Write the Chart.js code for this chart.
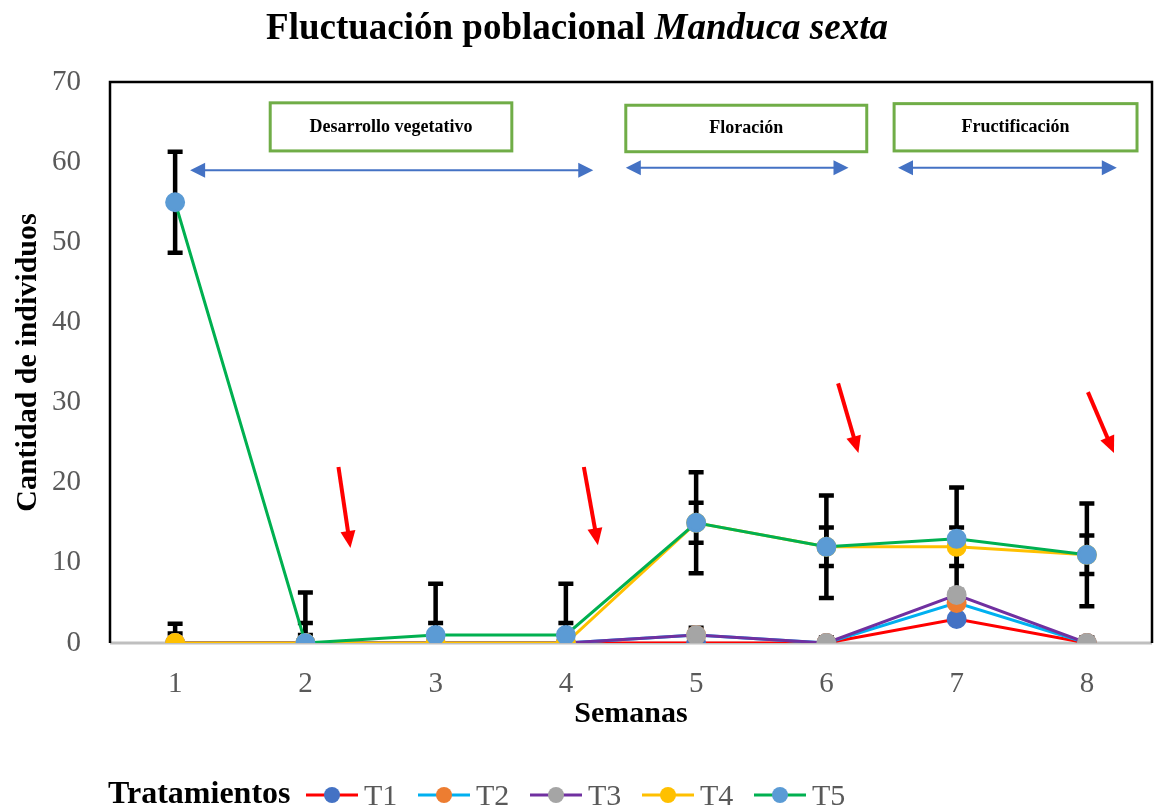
<!DOCTYPE html>
<html>
<head>
<meta charset="utf-8">
<script src="https://cdn.jsdelivr.net/npm/chart.js@4"></script>
<style>
  html, body { margin: 0; padding: 0; background: #fff; overflow: hidden; }
  #wrap { width: 1155px; height: 809px; }
</style>
</head>
<body>
<div id="wrap"><canvas id="grafico"></canvas></div>
<script>
// datos
const semanas = ['1', '2', '3', '4', '5', '6', '7', '8'];
const t1 = [0, 0, 0, 0, 0, 0, 3, 0];
const t2 = [0, 0, 0, 0, 1, 0, 5, 0];
const t3 = [0, 0, 0, 0, 1, 0, 6, 0];
const t4 = [0, 0, 0, 0, 15, 12, 12, 11];
const t5 = [55, 0, 1, 1, 15, 12, 13, 11];

// barras de error (+/-)
const errT3 = [1.2, 1.0, 0, 0, 0.9, 0.7, 0, 0.7];
const errT4 = [2.4, 2.5, 2.5, 2.5, 2.5, 2.4, 2.4, 2.4];
const errT5 = [6.3, 6.3, 6.4, 6.4, 6.3, 6.4, 6.4, 6.4];

const nombres = ['T1', 'T2', 'T3', 'T4', 'T5'];
const fases = ['Desarrollo vegetativo', 'Floración', 'Fructificación'];

const FONT = '"Liberation Serif", "Times New Roman", serif';
const colLinea = ['#FF0000', '#00B0F0', '#7030A0', '#FFC000', '#00B050'];
const colPunto = ['#4472C4', '#ED7D31', '#A5A5A5', '#FFC000', '#5B9BD5'];

// cajas y flechas de las fases (en unidades de categoria / valor)
const cajas = [[0.73, 2.585, 67.4, 61.4], [3.46, 5.31, 67.1, 61.3], [5.52, 7.385, 67.3, 61.4]];
const flechasAzules = [[0.115, 3.21, 59.0], [3.46, 5.17, 59.3], [5.55, 7.23, 59.3]];
const flechasRojas = [[1.254, 21.96, 1.346, 11.85], [3.138, 21.96, 3.246, 12.2],
                      [5.09, 32.4, 5.246, 23.7], [7.008, 31.3, 7.208, 23.7]];

const series = [t1, t2, t3, t4, t5];
const errores = [null, null, errT3, errT4, errT5];

const datasets = series.map((d, i) => ({
  label: nombres[i],
  data: d,
  borderColor: colLinea[i],
  backgroundColor: colPunto[i],
  pointBackgroundColor: colPunto[i],
  pointBorderColor: colPunto[i],
  borderWidth: 3,
  pointRadius: 8.5,
  pointHoverRadius: 8.5,
  tension: 0,
  order: 5 - i
}));

function flecha(ctx, x1, y1, x2, y2, largo, ancho) {
  const ang = Math.atan2(y2 - y1, x2 - x1);
  ctx.beginPath();
  ctx.moveTo(x2, y2);
  ctx.lineTo(x2 - largo * Math.cos(ang) + ancho / 2 * Math.sin(ang), y2 - largo * Math.sin(ang) - ancho / 2 * Math.cos(ang));
  ctx.lineTo(x2 - largo * Math.cos(ang) - ancho / 2 * Math.sin(ang), y2 - largo * Math.sin(ang) + ancho / 2 * Math.cos(ang));
  ctx.closePath();
  ctx.fill();
}

const marco = {
  id: 'marco',
  beforeDatasetsDraw(chart) {
    const { ctx, chartArea: a, scales } = chart;
    ctx.save();
    // eje x gris
    ctx.strokeStyle = '#BFBFBF';
    ctx.lineWidth = 3;
    ctx.beginPath();
    ctx.moveTo(a.left, a.bottom);
    ctx.lineTo(a.right, a.bottom);
    ctx.stroke();
    // borde negro
    ctx.strokeStyle = '#000';
    ctx.lineWidth = 2.5;
    ctx.beginPath();
    ctx.moveTo(a.left, a.bottom);
    ctx.lineTo(a.left, a.top);
    ctx.lineTo(a.right, a.top);
    ctx.lineTo(a.right, a.bottom);
    ctx.stroke();

    // barras de error
    ctx.beginPath();
    ctx.rect(a.left, a.top, a.right - a.left, a.bottom - a.top);
    ctx.clip();
    ctx.strokeStyle = '#000';
    ctx.lineWidth = 4.5;
    errores.forEach((err, s) => {
      if (!err) return;
      series[s].forEach((v, i) => {
        if (!err[i]) return;
        const x = scales.x.getPixelForValue(i);
        const yA = scales.y.getPixelForValue(v + err[i]);
        const yB = scales.y.getPixelForValue(v - err[i]);
        ctx.beginPath();
        ctx.moveTo(x, yA); ctx.lineTo(x, yB);
        ctx.moveTo(x - 7.5, yA); ctx.lineTo(x + 7.5, yA);
        ctx.moveTo(x - 7.5, yB); ctx.lineTo(x + 7.5, yB);
        ctx.stroke();
      });
    });
    ctx.restore();
  },
  afterDraw(chart) {
    const { ctx, scales } = chart;
    const sx = scales.x, sy = scales.y;
    ctx.save();

    // titulo
    ctx.fillStyle = '#000';
    ctx.textBaseline = 'alphabetic';
    const f1 = 'bold 37px ' + FONT, f2 = 'italic bold 37px ' + FONT;
    const p1 = 'Fluctuación poblacional ', p2 = 'Manduca sexta';
    ctx.font = f1; const w1 = ctx.measureText(p1).width;
    ctx.font = f2; const w2 = ctx.measureText(p2).width;
    let x0 = 577 - (w1 + w2) / 2;
    ctx.textAlign = 'left';
    ctx.font = f1; ctx.fillText(p1, x0, 39);
    ctx.font = f2; ctx.fillText(p2, x0 + w1, 39);

    // cajas de fases
    ctx.strokeStyle = '#70AD47';
    ctx.lineWidth = 3;
    ctx.font = 'bold 18px ' + FONT;
    ctx.textAlign = 'center';
    ctx.textBaseline = 'middle';
    cajas.forEach((c, i) => {
      const xl = sx.getPixelForValue(c[0]), xr = sx.getPixelForValue(c[1]);
      const yt = sy.getPixelForValue(c[2]), yb = sy.getPixelForValue(c[3]);
      ctx.strokeRect(xl, yt, xr - xl, yb - yt);
      ctx.fillStyle = '#000';
      ctx.fillText(fases[i], (xl + xr) / 2, (yt + yb) / 2);
    });

    // flechas dobles azules
    ctx.strokeStyle = '#4472C4';
    ctx.fillStyle = '#4472C4';
    ctx.lineWidth = 2;
    flechasAzules.forEach(f => {
      const xa = sx.getPixelForValue(f[0]), xb = sx.getPixelForValue(f[1]);
      const y = sy.getPixelForValue(f[2]);
      ctx.beginPath();
      ctx.moveTo(xa + 10, y); ctx.lineTo(xb - 10, y);
      ctx.stroke();
      flecha(ctx, xb - 14, y, xb, y, 15, 15);
      flecha(ctx, xa + 14, y, xa, y, 15, 15);
    });

    // flechas rojas
    ctx.strokeStyle = '#FF0000';
    ctx.fillStyle = '#FF0000';
    ctx.lineWidth = 4;
    flechasRojas.forEach(f => {
      const xa = sx.getPixelForValue(f[0]), ya = sy.getPixelForValue(f[1]);
      const xb = sx.getPixelForValue(f[2]), yb = sy.getPixelForValue(f[3]);
      const ang = Math.atan2(yb - ya, xb - xa);
      ctx.beginPath();
      ctx.moveTo(xa, ya);
      ctx.lineTo(xb - 12 * Math.cos(ang), yb - 12 * Math.sin(ang));
      ctx.stroke();
      flecha(ctx, xa, ya, xb, yb, 17, 15);
    });

    // leyenda
    ctx.textAlign = 'left';
    ctx.textBaseline = 'alphabetic';
    ctx.fillStyle = '#000';
    ctx.font = 'bold 32px ' + FONT;
    ctx.fillText('Tratamientos', 108, 803);
    ctx.font = '30px ' + FONT;
    nombres.forEach((n, i) => {
      const x = 306 + i * 112, y = 795;
      ctx.strokeStyle = colLinea[i];
      ctx.lineWidth = 3;
      ctx.beginPath();
      ctx.moveTo(x, y); ctx.lineTo(x + 52, y);
      ctx.stroke();
      ctx.fillStyle = colPunto[i];
      ctx.beginPath();
      ctx.arc(x + 26, y, 8, 0, Math.PI * 2);
      ctx.fill();
      ctx.fillStyle = '#595959';
      ctx.fillText(n, x + 58, 805);
    });
    ctx.restore();
  }
};

const ctx = document.getElementById('grafico').getContext('2d');
new Chart(ctx, {
  type: 'line',
  data: { labels: semanas, datasets: datasets },
  options: {
    responsive: true,
    maintainAspectRatio: false,
    animation: false,
    events: [],
    layout: { autoPadding: false, padding: { top: 82, left: 0, right: 3, bottom: 74 } },
    plugins: { legend: { display: false }, title: { display: false }, tooltip: { enabled: false } },
    scales: {
      x: {
        offset: true,
        grid: { display: false, drawTicks: false },
        border: { display: false },
        ticks: { color: '#595959', font: { family: FONT, size: 29 }, padding: 24 },
        title: { display: true, text: 'Semanas', color: '#000', font: { family: FONT, size: 30, weight: 'bold' }, padding: { top: 0, bottom: 3 } },
        afterFit(s) { s.height = 92; s.paddingLeft = 0; s.paddingRight = 0; }
      },
      y: {
        min: 0,
        max: 70,
        ticks: { stepSize: 10, color: '#595959', font: { family: FONT, size: 29 }, padding: 29 },
        grid: { display: false, drawTicks: false },
        border: { display: false },
        title: { display: true, text: 'Cantidad de individuos', color: '#000', font: { family: FONT, size: 30, weight: 'bold' }, padding: { top: 10, bottom: 0 } },
        afterFit(s) { s.width = 110; }
      }
    }
  },
  plugins: [marco]
});
</script>
</body>
</html>
